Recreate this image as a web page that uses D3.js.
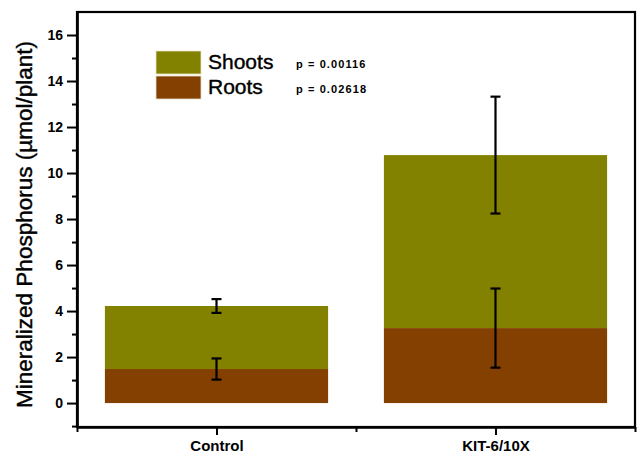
<!DOCTYPE html>
<html>
<head>
<meta charset="utf-8">
<script src="https://cdn.jsdelivr.net/npm/d3@7"></script>
<style>
  body { margin: 0; background: #fff; }
  svg { display: block; font-family: "Liberation Sans", Arial, sans-serif; }
</style>
</head>
<body>
<svg id="chart" width="637" height="454"></svg>
<script>
// values
var groups = ['Control', 'KIT-6/10X'];
var groupPos = [1, 2];
var roots = [1.48, 3.26];
var shoots = [2.74, 7.52];
var rootErr = [0.46, 1.72];
var shootErr = [0.30, 2.54];
var yMajor = [0, 2, 4, 6, 8, 10, 12, 14, 16];
var yMinor = [-1, 1, 3, 5, 7, 9, 11, 13, 15];
var xMinor = [0.5, 1.5, 2.5];
var legendNames = ['Shoots', 'Roots'];
var pValues = ['p = 0.00116', 'p = 0.02618'];

var colShoots = '#838200';
var colRoots = '#834000';

var svg = d3.select('#chart');
var pLeft = 77, pRight = 635, pTop = 12, pBottom = 427;

var x = d3.scaleLinear().domain([0.5, 2.5]).range([pLeft, pRight]);
var y = d3.scaleLinear().domain([-1.04, 17]).range([pBottom, pTop]);
var barW = x(1.4) - x(0.6);

// bars
var g = svg.append('g');
groups.forEach(function(name, i) {
	var cx = x(groupPos[i]);
	g.append('rect')
		.attr('x', cx - barW / 2).attr('width', barW)
		.attr('y', y(roots[i] + shoots[i]))
		.attr('height', y(roots[i]) - y(roots[i] + shoots[i]))
		.attr('fill', colShoots);
	g.append('rect')
		.attr('x', cx - barW / 2).attr('width', barW)
		.attr('y', y(roots[i]))
		.attr('height', y(0) - y(roots[i]))
		.attr('fill', colRoots);
});

// error bars
function errBar(cx, v, e) {
	var s = g.append('g').attr('stroke', '#000').attr('stroke-width', 2.2);
	s.append('line').attr('x1', cx).attr('x2', cx).attr('y1', y(v + e)).attr('y2', y(v - e));
	s.append('line').attr('x1', cx - 5).attr('x2', cx + 5).attr('y1', y(v + e)).attr('y2', y(v + e));
	s.append('line').attr('x1', cx - 5).attr('x2', cx + 5).attr('y1', y(v - e)).attr('y2', y(v - e));
}
groups.forEach(function(name, i) {
	var cx = x(groupPos[i]);
	errBar(cx, roots[i] + shoots[i], shootErr[i]);
	errBar(cx, roots[i], rootErr[i]);
});

// frame
svg.append('rect')
	.attr('x', pLeft).attr('y', pTop)
	.attr('width', pRight - pLeft).attr('height', pBottom - pTop)
	.attr('fill', 'none').attr('stroke', '#000').attr('stroke-width', 2.2);

// y axis
var yAxis = svg.append('g')
	.attr('transform', 'translate(' + pLeft + ',0)')
	.call(d3.axisLeft(y).tickValues(yMajor).tickSize(10).tickSizeOuter(0).tickPadding(4));
svg.append('g')
	.attr('transform', 'translate(' + pLeft + ',0)')
	.call(d3.axisLeft(y).tickValues(yMinor).tickSize(5).tickSizeOuter(0).tickFormat(''));

// x axis
var xAxis = svg.append('g')
	.attr('transform', 'translate(0,' + pBottom + ')')
	.call(d3.axisBottom(x).tickValues(groupPos).tickSize(8).tickSizeOuter(0)
		.tickFormat(function(d, i) { return groups[i]; }).tickPadding(5));
svg.append('g')
	.attr('transform', 'translate(0,' + pBottom + ')')
	.call(d3.axisBottom(x).tickValues(xMinor).tickSize(5).tickSizeOuter(0).tickFormat(''));

svg.selectAll('.domain').attr('stroke-width', 2.2);
svg.selectAll('.tick line').attr('stroke-width', 2);
yAxis.selectAll('text').attr('font-size', 14).attr('font-weight', 'bold').attr('fill', '#000')
	.attr('font-family', '"Liberation Sans", Arial, sans-serif');
xAxis.selectAll('text').attr('font-size', 15).attr('font-weight', 'bold').attr('fill', '#000')
	.attr('font-family', '"Liberation Sans", Arial, sans-serif');

// y label
svg.append('text')
	.attr('transform', 'translate(32,' + ((pTop + pBottom) / 2 + 5) + ') rotate(-90)')
	.attr('text-anchor', 'middle')
	.attr('font-size', 22.5)
	.attr('fill', '#000')
	.attr('stroke', '#000').attr('stroke-width', 0.4)
	.text('Mineralized Phosphorus (\u00b5mol/plant)');

// legend
var leg = svg.append('g');
var legCols = [colShoots, colRoots];
var legY = [51, 76];
legendNames.forEach(function(name, i) {
	leg.append('rect')
		.attr('x', 156).attr('y', legY[i])
		.attr('width', 45).attr('height', 23)
		.attr('fill', legCols[i])
		.attr('stroke', '#e8e0c8').attr('stroke-width', 0.8);
	leg.append('text')
		.attr('x', 208).attr('y', legY[i] + 18)
		.attr('font-size', 21).attr('fill', '#000')
		.attr('stroke', '#000').attr('stroke-width', 0.4)
		.text(name);
	leg.append('text')
		.attr('x', 296).attr('y', legY[i] + 17)
		.attr('font-size', 11).attr('font-weight', 'bold')
		.attr('letter-spacing', 1.1).attr('fill', '#000')
		.text(pValues[i]);
});
</script>
</body>
</html>
